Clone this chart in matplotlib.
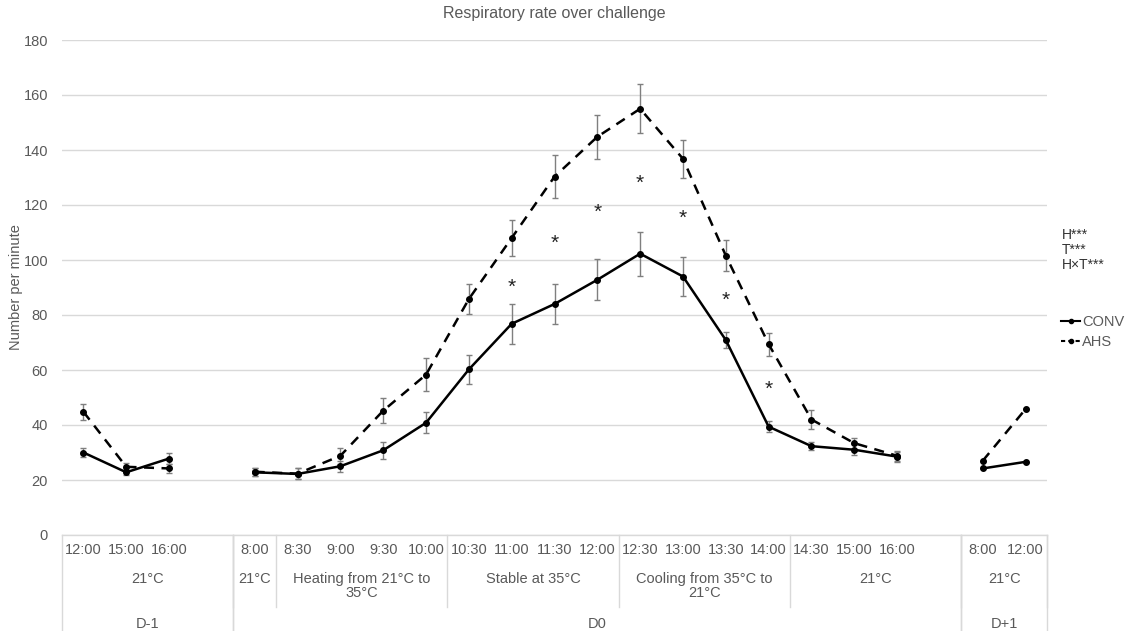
import numpy as np
import matplotlib
matplotlib.use("Agg")
import matplotlib.pyplot as plt
from matplotlib.lines import Line2D

plt.rcParams['font.family'] = ['Liberation Sans', 'DejaVu Sans']

# x categories (blank slots separate the days)
times = ["12:00", "15:00", "16:00", "",
         "8:00", "8:30", "9:00", "9:30", "10:00",
         "10:30", "11:00", "11:30", "12:00",
         "12:30", "13:00", "13:30", "14:00",
         "14:30", "15:00", "16:00", "",
         "8:00", "12:00"]
nan = np.nan
conv = [30.0, 22.8, 27.8, nan,
        22.8, 22.2, 25.0, 30.8, 40.8,
        60.2, 76.8, 84.0, 92.8,
        102.3, 94.0, 70.9, 39.4,
        32.3, 31.0, 28.5, nan,
        24.2, 26.6]
conv_err = [1.8, 1.0, 2.0, nan,
            1.5, 2.0, 2.0, 3.0, 3.8,
            5.2, 7.2, 7.3, 7.4,
            8.0, 7.2, 3.0, 2.0,
            1.5, 2.0, 1.8, nan,
            0, 0]
ahs = [44.8, 24.8, 24.2, nan,
       23.0, 22.3, 28.8, 45.2, 58.3,
       85.8, 108.0, 130.3, 144.8,
       155.0, 136.8, 101.6, 69.4,
       42.0, 33.4, 28.8, nan,
       27.0, 45.8]
ahs_err = [3.0, 1.5, 1.8, nan,
           1.5, 2.0, 3.0, 4.5, 5.9,
           5.3, 6.4, 7.8, 7.9,
           8.9, 6.8, 5.5, 4.2,
           3.4, 2.0, 1.8, nan,
           0, 0]
# significance stars: (category index, y)
stars_x = [10, 11, 12, 13, 14, 15, 16]
stars_y = [90.0, 106.0, 117.5, 128.0, 115.0, 85.5, 53.0]

# second and third label rows: (start idx, end idx, label)
temp_groups = [(0, 3, "21°C"), (4, 4, "21°C"), (5, 8, "Heating from 21°C to\n35°C"),
               (9, 12, "Stable at 35°C"), (13, 16, "Cooling from 35°C to\n21°C"),
               (17, 20, "21°C"), (21, 22, "21°C")]
day_groups = [(0, 3, "D-1"), (4, 20, "D0"), (21, 22, "D+1")]

txt = "#595959"
grid = "#d9d9d9"

fig = plt.figure(figsize=(11.43, 6.31), dpi=100)
ax = fig.add_axes([62 / 1143, 1 - 535 / 631, (1047 - 62) / 1143, 495 / 631])

x = np.arange(len(times))
ax.errorbar(x, conv, yerr=conv_err, fmt='none', ecolor='#7f7f7f', elinewidth=1,
            capsize=2.5, capthick=1, zorder=2)
ax.errorbar(x, ahs, yerr=ahs_err, fmt='none', ecolor='#7f7f7f', elinewidth=1,
            capsize=2.5, capthick=1, zorder=2)
ax.plot(x, conv, color='black', lw=1.8, marker='o', ms=4, zorder=3)
ax.plot(x, ahs, color='black', lw=1.8, ls=(0, (4, 3)), marker='o', ms=4, zorder=3)

for sx, sy in zip(stars_x, stars_y):
    ax.text(sx, sy, "*", ha='center', va='center', fontsize=15, color='#222222')

ax.set_xlim(-0.5, len(times) - 0.5)
ax.set_ylim(0, 180)
ax.set_yticks(np.arange(0, 181, 20))
ax.yaxis.grid(True, color=grid, lw=1)
ax.set_axisbelow(True)
for s in ax.spines.values():
    s.set_visible(False)
ax.tick_params(axis='y', length=0, pad=10, labelsize=10.5, labelcolor=txt)
ax.set_xticks(x, times)
ax.tick_params(axis='x', length=0, pad=6, labelsize=10.5, labelcolor=txt)
ax.set_ylabel("Number per minute", fontsize=10.5, color=txt)
ax.yaxis.set_label_coords(-0.040, 0.5)
ax.set_title("Respiratory rate over challenge", fontsize=11.5, color=txt, pad=16)

# category table lines
tr = ax.get_xaxis_transform()
ax.plot([-0.5, len(times) - 0.5], [0, 0], color=grid, lw=1, transform=tr, clip_on=False)
for a, b, lab in temp_groups:
    ax.plot([b + 0.5, b + 0.5], [0, -0.145], color=grid, lw=1, transform=tr, clip_on=False)
    ax.text((a + b) / 2, -0.075, lab, transform=tr, ha='center', va='top',
            fontsize=10.5, color=txt, linespacing=1.0)
for a, b, lab in day_groups:
    for e in (a - 0.5, b + 0.5):
        ax.plot([e, e], [0, -0.2], color=grid, lw=1, transform=tr, clip_on=False)
    ax.text((a + b) / 2, -0.18, lab, transform=tr, ha='center', va='center',
            fontsize=10.5, color=txt)

# statistics note and legend
fig.text(1062 / 1143, 1 - 250 / 631, "H***\nT***\nH×T***", ha='left', va='center',
         fontsize=10, color='#333333', linespacing=1.1)
handles = [Line2D([], [], color='black', lw=1.5, marker='o', ms=3),
           Line2D([], [], color='black', lw=1.5, ls=(0, (2, 1.5)), marker='o', ms=3)]
fig.legend(handles, ["CONV", "AHS"], loc='center left',
           bbox_to_anchor=(1048 / 1143, 1 - 332 / 631), frameon=False,
           handlelength=1.3, handletextpad=0.15, labelspacing=0.4,
           fontsize=10.5, labelcolor=txt)

fig.savefig("out.png", dpi=100)
